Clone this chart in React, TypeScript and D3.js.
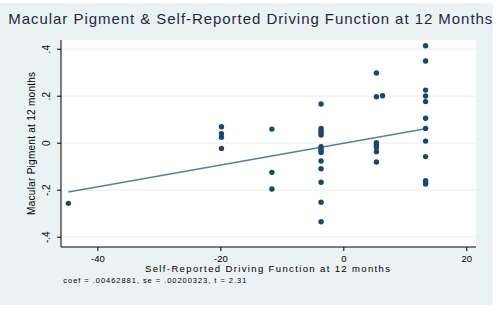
import React from "react";
import * as d3 from "d3";

const title = "Macular Pigment & Self-Reported Driving Function at 12 Months";
const xTitle = "Self-Reported Driving Function at 12 months";
const yTitle = "Macular Pigment at 12 months";
const caption = "coef = .00462881, se = .00200323, t = 2.31";
const coef = 0.00462881;

const xTicks = [-40, -20, 0, 20];
const xTickLabels = ["-40", "-20", "0", "20"];
const yTicks = [0.4, 0.2, 0, -0.2, -0.4];
const yTickLabels = [".4", ".2", "0", "-.2", "-.4"];

const residX = [
  -44.8,
  -19.9, -19.9, -19.9, -19.9,
  -11.7, -11.7, -11.7,
  -3.7, -3.7, -3.7, -3.7, -3.7, -3.7, -3.7, -3.7, -3.7, -3.7, -3.7, -3.7, -3.7, -3.7,
  5.3, 5.3, 5.3, 5.3, 5.3, 5.3, 5.3,
  6.3,
  13.3, 13.3, 13.3, 13.3, 13.3, 13.3, 13.3, 13.3, 13.3, 13.3, 13.3, 13.3,
];
const residY = [
  -0.256,
  0.07, 0.04, 0.025, -0.022,
  0.06, -0.124, -0.195,
  0.167, 0.063, 0.053, 0.045, 0.035, -0.015, -0.025, -0.033, -0.04, -0.076, -0.109, -0.166, -0.251, -0.334,
  0.299, 0.198, 0.002, -0.008, -0.018, -0.036, -0.08,
  0.202,
  0.415, 0.35, 0.226, 0.201, 0.177, 0.106, 0.063, 0.009, -0.057, -0.16, -0.167, -0.174,
];

export default function App() {
  const W = 500, H = 309;
  const left = 61, right = 476, top = 40, bottom = 247;
  const x = d3.scaleLinear().domain([-46, 21.5]).range([left, right]);
  const y = d3.scaleLinear().domain([-0.4417, 0.4392]).range([bottom, top]);
  const [xmin, xmax] = d3.extent(residX) as [number, number];
  const line = d3.line<number>().x((d) => x(d)).y((d) => y(coef * d));
  const font = "'Liberation Sans', Arial, sans-serif";
  const pts = residX.map((v, i) => [v, residY[i]]);

  return (
    <svg width={W} height={H} style={{ position: "absolute", left: 0, top: 0 }} fontFamily={font}>
      <rect x={0} y={0} width={W} height={H} fill="#ffffff" />
      <rect x={0} y={3} width={493} height={302} fill="#eaf2f3" />
      <rect x={left} y={top} width={right - left} height={bottom - top} fill="#ffffff" />
      {yTicks.map((t) => (
        <line key={"g" + t} x1={left} x2={right} y1={y(t)} y2={y(t)} stroke="#eaf2f3" strokeWidth={1.2} />
      ))}
      <path d={line([xmin, xmax]) || ""} fill="none" stroke="#5a7fa0" strokeWidth={1.6} />
      {pts.map((p, i) => (
        <circle key={i} cx={x(p[0])} cy={y(p[1])} r={2.7} fill="#1a476f" />
      ))}
      <line x1={left} x2={left} y1={top} y2={bottom} stroke="#000" strokeWidth={1} />
      <line x1={left} x2={right} y1={bottom} y2={bottom} stroke="#000" strokeWidth={1} />
      {yTicks.map((t, i) => (
        <g key={"y" + t}>
          <line x1={left - 4} x2={left} y1={y(t)} y2={y(t)} stroke="#000" />
          <text
            transform={`translate(50,${y(t)}) rotate(-90)`}
            textAnchor="middle"
            fontSize={10}
            fill="#000"
          >
            {yTickLabels[i]}
          </text>
        </g>
      ))}
      {xTicks.map((t, i) => (
        <g key={"x" + t}>
          <line x1={x(t)} x2={x(t)} y1={bottom} y2={bottom + 4} stroke="#000" />
          <text x={x(t)} y={262} textAnchor="middle" fontSize={9.5} fill="#000">
            {xTickLabels[i]}
          </text>
        </g>
      ))}
      <text
        transform={`translate(35,143.4) rotate(-90)`}
        textAnchor="middle"
        fontSize={10}
        textLength={143}
        lengthAdjust="spacing"
        fill="#000"
      >
        {yTitle}
      </text>
      <text x={267.5} y={271.8} textAnchor="middle" fontSize={9.5} textLength={245} lengthAdjust="spacing" fill="#000">
        {xTitle}
      </text>
      <text x={63.3} y={282.5} fontSize={7.5} textLength={183} lengthAdjust="spacing" fill="#000">
        {caption}
      </text>
      <text x={8.3} y={23.5} fontSize={15} textLength={484} lengthAdjust="spacing" fill="#1e2a3c">
        {title}
      </text>
    </svg>
  );
}
